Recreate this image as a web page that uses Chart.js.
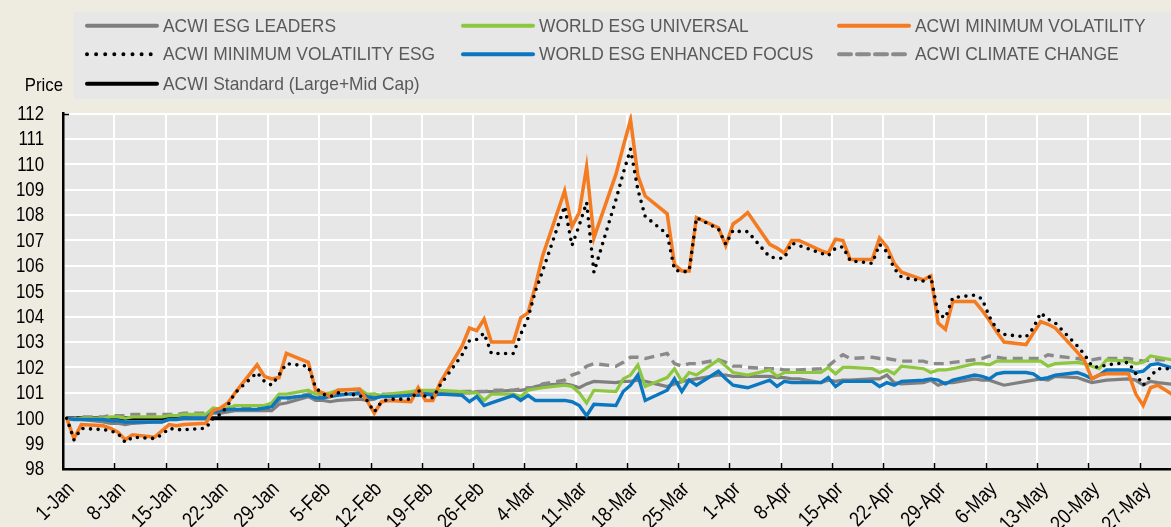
<!DOCTYPE html>
<html><head><meta charset="utf-8">
<script src="https://cdn.jsdelivr.net/npm/chart.js@4.4.1/dist/chart.umd.min.js"></script>
<style>html,body{margin:0;padding:0;background:#EEEBE1;overflow:hidden}#wrap{width:1171px;height:527px;position:relative}</style>
</head><body><div id="wrap"><canvas id="c" width="1171" height="527"></canvas></div>
<script>
const dates = [
'2020-01-01','2020-01-02','2020-01-03','2020-01-06','2020-01-07','2020-01-08','2020-01-09','2020-01-10','2020-01-13','2020-01-14','2020-01-15','2020-01-16','2020-01-17','2020-01-20','2020-01-21','2020-01-22','2020-01-23','2020-01-24','2020-01-27','2020-01-28','2020-01-29','2020-01-30','2020-01-31',
'2020-02-03','2020-02-04','2020-02-05','2020-02-06','2020-02-07','2020-02-10','2020-02-11','2020-02-12','2020-02-13','2020-02-14','2020-02-17','2020-02-18','2020-02-19','2020-02-20','2020-02-21','2020-02-24','2020-02-25','2020-02-26','2020-02-27','2020-02-28',
'2020-03-02','2020-03-03','2020-03-04','2020-03-05','2020-03-06','2020-03-09','2020-03-10','2020-03-11','2020-03-12','2020-03-13','2020-03-16','2020-03-17','2020-03-18','2020-03-19','2020-03-20','2020-03-23','2020-03-24','2020-03-25','2020-03-26','2020-03-27','2020-03-30','2020-03-31',
'2020-04-01','2020-04-02','2020-04-03','2020-04-06','2020-04-07','2020-04-08','2020-04-09','2020-04-10','2020-04-13','2020-04-14','2020-04-15','2020-04-16','2020-04-17','2020-04-20','2020-04-21','2020-04-22','2020-04-23','2020-04-24','2020-04-27','2020-04-28','2020-04-29','2020-04-30',
'2020-05-01','2020-05-04','2020-05-05','2020-05-06','2020-05-07','2020-05-08','2020-05-11','2020-05-12','2020-05-13','2020-05-14','2020-05-15','2020-05-18','2020-05-19','2020-05-20','2020-05-21','2020-05-22','2020-05-25','2020-05-26','2020-05-27','2020-05-28','2020-05-29',
'2020-06-01'];

const tickLabels = ['1-Jan','8-Jan','15-Jan','22-Jan','29-Jan','5-Feb','12-Feb','19-Feb','26-Feb','4-Mar','11-Mar','18-Mar','25-Mar','1-Apr','8-Apr','15-Apr','22-Apr','29-Apr','6-May','13-May','20-May','27-May'];
const yTicks = [98,99,100,101,102,103,104,105,106,107,108,109,110,111,112];

const acwiEsgLeaders = [
100.0,99.95,99.95,99.85,99.8,99.8,99.75,99.8,99.85,99.85,99.95,99.95,100.0,100.05,100.2,100.2,100.25,100.3,100.3,100.3,100.3,100.55,100.6,
100.85,100.7,100.7,100.65,100.7,100.75,100.7,100.75,100.9,100.9,100.95,101.0,101.0,101.0,101.0,101.0,101.0,101.05,101.05,101.05,
101.1,101.1,101.15,101.25,101.3,101.35,101.3,101.2,101.35,101.45,101.4,101.45,101.45,101.5,101.45,101.25,101.35,101.45,101.5,101.55,101.7,101.7,
101.65,101.65,101.65,101.65,101.6,101.6,101.55,101.55,101.4,101.5,101.45,101.5,101.5,101.55,101.55,101.7,101.4,101.35,101.4,101.5,101.3,101.4,
101.4,101.55,101.5,101.5,101.4,101.3,101.45,101.5,101.55,101.5,101.65,101.6,101.5,101.4,101.45,101.5,101.55,101.5,101.3,101.45,101.4,
101.3];
const worldEsgUniversal = [
100.0,99.95,100.0,100.0,100.05,100.05,100.0,100.05,100.05,100.05,100.1,100.1,100.15,100.15,100.4,100.35,100.4,100.5,100.5,100.5,100.6,100.95,100.95,
101.1,100.95,100.95,101.0,101.1,101.15,100.95,100.95,100.9,100.95,101.05,101.1,101.1,101.1,101.1,101.05,101.0,101.0,100.7,100.95,
100.95,100.85,101.1,101.15,101.2,101.3,101.25,101.0,100.6,101.1,101.05,101.55,101.7,102.1,101.25,101.6,101.95,101.45,101.8,101.7,102.3,102.05,
101.8,101.75,101.7,101.9,101.65,101.8,101.8,101.8,101.8,102.0,101.75,102.0,102.0,101.95,101.8,101.9,101.75,102.05,101.95,101.8,101.9,101.9,
101.95,102.15,102.15,102.1,102.25,102.25,102.25,102.25,102.25,102.05,102.15,102.2,102.15,102.05,101.95,102.3,102.25,102.15,102.2,102.45,102.4,
102.25];
const acwiMinVol = [
100.0,99.2,99.75,99.7,99.6,99.45,99.15,99.35,99.25,99.5,99.75,99.7,99.75,99.8,100.3,100.4,100.6,101.0,102.1,101.65,101.55,101.6,102.55,
102.2,101.1,101.0,100.85,101.1,101.15,100.7,100.2,100.65,100.7,100.65,101.2,100.7,100.7,101.4,102.85,103.55,103.45,103.9,103.0,
103.0,103.95,104.15,105.2,106.4,108.95,107.55,108.1,109.9,107.1,109.6,110.7,111.75,109.55,108.75,108.05,106.05,105.8,105.8,107.9,107.5,106.8,
107.65,107.85,108.1,106.85,106.7,106.5,107.0,107.0,106.6,106.5,107.05,107.0,106.25,106.25,107.1,106.75,106.1,105.75,105.45,105.6,103.75,103.5,
104.6,104.6,104.25,103.85,103.4,103.0,102.9,103.35,103.8,103.7,103.55,102.6,102.25,101.55,101.7,101.75,101.75,100.95,100.5,101.2,101.3,
100.75];
const acwiMinVolEsg = [
100.0,99.15,99.6,99.55,99.5,99.4,99.05,99.25,99.2,99.35,99.6,99.55,99.55,99.6,100.0,100.15,100.5,101.0,101.8,101.45,101.3,101.7,102.15,
102.05,101.2,100.95,100.85,101.0,100.9,100.7,100.25,100.65,100.75,100.75,101.1,100.85,100.8,101.3,102.5,103.05,103.1,103.35,102.55,
102.55,103.3,103.95,105.0,105.8,108.35,106.8,107.6,108.5,105.75,108.6,109.65,110.6,109.0,107.95,107.25,105.85,105.75,105.8,107.9,107.45,106.85,
107.4,107.35,107.35,106.35,106.3,106.3,106.9,106.8,106.5,106.4,106.7,106.75,106.2,106.1,106.85,106.55,105.9,105.55,105.4,105.6,104.1,103.95,
104.75,104.85,104.7,104.0,103.5,103.3,103.2,103.55,104.15,103.9,103.75,102.85,102.5,102.05,102.0,102.1,102.2,101.75,101.3,101.65,101.95,
101.95];
const worldEsgEnhancedFocus = [
100.0,99.95,99.95,99.95,99.9,99.9,99.85,99.85,99.85,99.85,99.95,99.95,100.0,100.0,100.25,100.3,100.35,100.35,100.35,100.4,100.45,100.8,100.8,
100.9,100.8,100.8,100.85,100.9,101.0,100.85,100.8,100.85,100.85,100.9,100.9,100.95,100.9,100.95,100.9,100.65,100.85,100.5,100.6,
100.9,100.7,100.9,100.7,100.7,100.7,100.65,100.5,100.1,100.55,100.5,101.05,101.3,101.7,100.7,101.1,101.55,101.05,101.5,101.3,101.85,101.55,
101.3,101.25,101.2,101.5,101.25,101.45,101.4,101.4,101.4,101.6,101.25,101.45,101.45,101.45,101.25,101.4,101.3,101.45,101.5,101.55,101.5,101.35,
101.5,101.7,101.65,101.55,101.75,101.8,101.8,101.75,101.55,101.6,101.7,101.8,101.7,101.55,101.7,101.9,101.9,101.8,101.85,102.1,102.15,
101.9];
const acwiClimateChange = [
100.0,100.0,100.05,100.05,100.1,100.1,100.1,100.15,100.15,100.15,100.15,100.15,100.2,100.2,100.3,100.3,100.4,100.4,100.4,100.4,100.45,100.7,100.75,
100.95,100.9,100.9,100.9,100.95,100.95,100.9,100.95,100.95,100.95,100.95,100.95,100.95,101.0,101.0,101.05,101.05,101.05,101.05,101.1,
101.1,101.15,101.2,101.2,101.35,101.5,101.7,101.8,102.05,102.15,102.05,102.2,102.4,102.4,102.35,102.55,102.15,102.05,102.15,102.15,102.3,102.2,
102.05,102.05,102.0,101.95,101.95,101.9,101.9,101.9,101.95,102.05,102.3,102.5,102.35,102.4,102.35,102.35,102.3,102.25,102.25,102.15,102.15,102.15,
102.2,102.3,102.35,102.45,102.4,102.35,102.35,102.35,102.35,102.5,102.45,102.35,102.3,102.3,102.35,102.35,102.35,102.3,102.25,102.3,102.3,
102.3];
const acwiStandard = [
100,100,100,100,100,100,100,100,100,100,100,100,100,100,100,100,100,100,100,100,100,100,100,
100,100,100,100,100,100,100,100,100,100,100,100,100,100,100,100,100,100,100,100,
100,100,100,100,100,100,100,100,100,100,100,100,100,100,100,100,100,100,100,100,100,100,
100,100,100,100,100,100,100,100,100,100,100,100,100,100,100,100,100,100,100,100,100,100,
100,100,100,100,100,100,100,100,100,100,100,100,100,100,100,100,100,100,100,100,100,
100];

const BASE = "'Liberation Sans', Arial, sans-serif";
// text drawn with a horizontal squeeze to mimic the condensed face of the original
const TXT = {
  tick:  {size:20.5, sx:0.82, color:'#000'},
  xtick: {size:21,   sx:0.84, color:'#000'},
  price: {size:18.6, sx:0.9,  color:'#000'},
  legend:{size:18.5, sx:0.94, color:'#595959'}
};

const DAY0 = Date.UTC(2020,0,1);
// each daily value sits in the middle of its day slot (date axis "between tick marks")
const xs = dates.map(s => (Date.parse(s+'T00:00:00Z') - DAY0)/86400000 + 0.5);
const pts = arr => arr.map((v,i)=>({x:xs[i], y:v}));

const C = {grey:'#7F7F7F', green:'#8DC63F', orange:'#F47B20', black:'#000000', blue:'#0B77C1', dash:'#8A8A8A'};

const datasets = [
  {label:'ACWI ESG LEADERS', data:pts(acwiEsgLeaders), borderColor:C.grey, borderWidth:3.2, order:6, col:0, row:0},
  {label:'WORLD ESG UNIVERSAL', data:pts(worldEsgUniversal), borderColor:C.green, borderWidth:3.2, order:4, col:1, row:0},
  {label:'ACWI MINIMUM VOLATILITY', data:pts(acwiMinVol), borderColor:C.orange, borderWidth:3.5, order:2, col:2, row:0},
  {label:'ACWI MINIMUM VOLATILITY ESG', data:pts(acwiMinVolEsg), borderColor:C.black, borderWidth:3.6, borderDash:[0,7.6], borderCapStyle:'round', order:1, col:0, row:1},
  {label:'WORLD ESG ENHANCED FOCUS', data:pts(worldEsgEnhancedFocus), borderColor:C.blue, borderWidth:3.4, order:3, col:1, row:1},
  {label:'ACWI CLIMATE CHANGE', data:pts(acwiClimateChange), borderColor:C.dash, borderWidth:3.4, borderDash:[10,6], order:5, col:2, row:1},
  {label:'ACWI Standard (Large+Mid Cap)', data:pts(acwiStandard), borderColor:C.black, borderWidth:4, order:7, col:0, row:2}
];
datasets.forEach(d=>{d.pointRadius=0;d.pointHoverRadius=0;d.fill=false;d.tension=0;});

function squeezeText(ctx, text, x, y, st, align, baseline, rot){
  ctx.save();
  ctx.translate(x,y);
  if(rot) ctx.rotate(rot);
  ctx.scale(st.sx,1);
  ctx.font = st.size+'px '+BASE;
  ctx.fillStyle = st.color;
  ctx.textAlign = align; ctx.textBaseline = baseline;
  ctx.fillText(text,0,0);
  ctx.restore();
}

const decor = {
  id:'decor',
  beforeDraw(chart){
    const {ctx, chartArea:a} = chart;
    ctx.save();
    ctx.fillStyle='#EEEBE1'; ctx.fillRect(0,0,chart.width,chart.height);
    ctx.fillStyle='#E7E7E7'; ctx.fillRect(a.left,a.top,a.right-a.left,a.bottom-a.top);
    ctx.restore();
  },
  afterDraw(chart){
    const {ctx, chartArea:a} = chart;
    const sx = chart.scales.x, sy = chart.scales.y;
    ctx.save();
    ctx.strokeStyle='#000'; ctx.lineWidth=1.5;
    sx.ticks.forEach(t=>{const p=Math.round(sx.getPixelForValue(t.value))+0.5; if(p>a.left+2){ctx.beginPath();ctx.moveTo(p,a.bottom);ctx.lineTo(p,a.bottom-6);ctx.stroke();}});
    ctx.beginPath();ctx.moveTo(a.left,a.top+1);ctx.lineTo(a.left+6,a.top+1);ctx.stroke();
    sy.ticks.forEach(t=>{ squeezeText(ctx, String(t.value), 44, sy.getPixelForValue(t.value)+6.3, TXT.tick, 'right', 'alphabetic'); });
    sx.ticks.forEach((t,i)=>{ squeezeText(ctx, tickLabels[i], sx.getPixelForValue(t.value)+8, a.bottom+17, TXT.xtick, 'right', 'middle', -Math.PI/4); });
    const L=73.5, T=11.7, B=99;
    ctx.fillStyle='#E7E7E7'; ctx.fillRect(L,T,chart.width-L,B-T);
    const colX=[87,463,839], rowY=[25.7,54.3,83.7];
    chart.data.datasets.forEach(d=>{
      const x=colX[d.col], y=rowY[d.row];
      const dotted = d.borderDash && d.borderDash[0]===0;
      ctx.save();
      ctx.strokeStyle=d.borderColor; ctx.lineWidth=4; ctx.lineCap='round';
      if(d.borderDash){ ctx.setLineDash(dotted?[0,9.1]:[12,6]); }
      ctx.beginPath(); ctx.moveTo(x,y); ctx.lineTo(x+(dotted?64:70),y); ctx.stroke();
      ctx.restore();
      squeezeText(ctx, d.label, x+76, y+1, TXT.legend, 'left', 'middle');
    });
    squeezeText(ctx, 'Price', 63, 86, TXT.price, 'right', 'middle');
    ctx.restore();
  }
};

new Chart(document.getElementById('c'), {
  type:'line',
  data:{datasets},
  options:{
    responsive:false, animation:false, devicePixelRatio:1,
    layout:{padding:{top:113.5,left:0,right:0,bottom:0}},
    plugins:{legend:{display:false}, tooltip:{enabled:false}},
    scales:{
      x:{type:'linear', min:0, max:151.3,
        afterBuildTicks(s){ s.ticks = tickLabels.map((_,i)=>({value:i*7})); },
        afterFit(s){ s.height = 58; },
        grid:{color:'#FFFFFF', lineWidth:2, drawTicks:false},
        border:{display:true, color:'#000', width:2.5},
        ticks:{display:false}
      },
      y:{type:'linear', min:98, max:112,
        afterBuildTicks(s){ s.ticks = yTicks.map(v=>({value:v})); },
        afterFit(s){ s.width = 63; },
        grid:{color:'#FFFFFF', lineWidth:2, drawTicks:false},
        border:{display:true, color:'#000', width:2.5},
        ticks:{display:false}
      }
    }
  },
  plugins:[decor]
});
</script></body></html>
